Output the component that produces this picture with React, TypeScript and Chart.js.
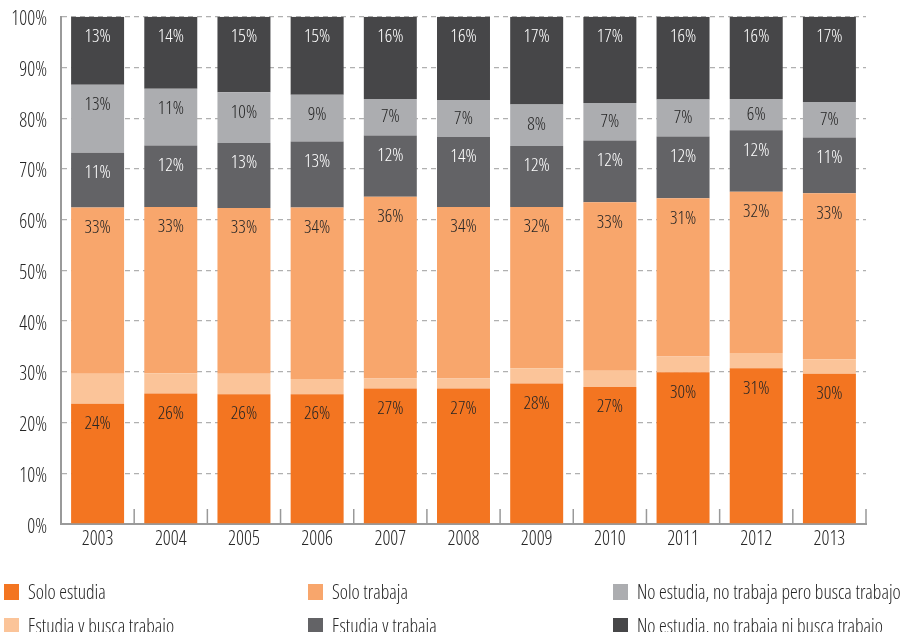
import React, { useEffect, useRef } from "react";
import { Chart, registerables } from "chart.js";
Chart.register(...registerables);

const years = ["2003", "2004", "2005", "2006", "2007", "2008", "2009", "2010", "2011", "2012", "2013"];
const soloEstudia = [23.7, 25.7, 25.6, 25.6, 26.7, 26.7, 27.7, 27.0, 29.9, 30.7, 29.6];
const estudiaBusca = [5.9, 4.0, 4.0, 3.0, 2.0, 2.0, 3.0, 3.2, 3.1, 3.0, 2.9];
const soloTrabaja = [32.8, 32.8, 32.7, 33.8, 35.8, 33.8, 31.8, 33.2, 31.2, 31.8, 32.7];
const estudiaTrabaja = [10.8, 12.1, 12.8, 13.0, 12.1, 13.8, 12.0, 12.2, 12.2, 12.1, 11.0];
const noEstudiaBusca = [13.4, 11.2, 10.0, 9.2, 7.2, 7.3, 8.2, 7.4, 7.3, 6.2, 7.0];
const noEstudiaNiBusca = [13.4, 14.2, 14.9, 15.4, 16.2, 16.4, 17.3, 17.0, 16.3, 16.2, 16.8];

const FAMILY = "'Open Sans', 'DejaVu Sans Condensed', sans-serif";
const STRETCH_WEIGHT = "condensed 300";

const series = [
  { label: "Solo estudia", data: soloEstudia, color: "#F37521", text: "#262626", showLabels: true },
  { label: "Estudia y busca trabajo", data: estudiaBusca, color: "#FBC499", text: "#262626", showLabels: false },
  { label: "Solo trabaja", data: soloTrabaja, color: "#F8A66C", text: "#262626", showLabels: true },
  { label: "Estudia y trabaja", data: estudiaTrabaja, color: "#636366", text: "#ffffff", showLabels: true },
  { label: "No estudia, no trabaja pero busca trabajo", data: noEstudiaBusca, color: "#ACADB0", text: "#262626", showLabels: true },
  { label: "No estudia, no trabaja ni busca trabajo", data: noEstudiaNiBusca, color: "#464648", text: "#ffffff", showLabels: true },
];

// legend grid order (row-major, 3 columns)
const legendOrder = [0, 2, 4, 1, 3, 5];
const legendColX = [4, 308, 613];
const legendRowY = [584, 618];

const CANVAS_SHIFT = 9;

const labelPlugin = {
  id: "segLabels",
  afterDatasetsDraw(chart: any) {
    const ctx = chart.ctx;
    ctx.save();
    ctx.font = `${STRETCH_WEIGHT} 18.5px ${FAMILY}`;
    ctx.textAlign = "center";
    ctx.textBaseline = "middle";
    chart.data.datasets.forEach((ds: any, di: number) => {
      if (!ds.showLabels) return;
      const meta = chart.getDatasetMeta(di);
      meta.data.forEach((el: any, i: number) => {
        const top = Math.min(el.y, el.base);
        const h = Math.abs(el.base - el.y);
        const y = top + Math.min(20, h / 2);
        ctx.fillStyle = ds.labelColor;
        ctx.fillText(Math.round(ds.data[i]) + "%", el.x, y);
      });
    });
    ctx.restore();
  },
};

const tickPlugin = {
  id: "innerTicks",
  afterDraw(chart: any) {
    const x = chart.scales.x;
    const area = chart.chartArea;
    const ctx = chart.ctx;
    const n = chart.data.labels.length;
    ctx.save();
    ctx.strokeStyle = "#999999";
    ctx.lineWidth = 1.5;
    for (let i = 0; i <= n; i++) {
      let px: number;
      if (i === 0) px = area.left;
      else if (i === n) px = area.right;
      else px = (x.getPixelForValue(i - 1) + x.getPixelForValue(i)) / 2;
      ctx.beginPath();
      ctx.moveTo(px, area.bottom);
      ctx.lineTo(px, area.bottom - 15);
      ctx.stroke();
    }
    ctx.restore();
  },
};

export default function App() {
  const ref = useRef<HTMLCanvasElement>(null);
  useEffect(() => {
    if (!ref.current) return;
    const chart = new Chart(ref.current, {
      type: "bar",
      data: {
        labels: years,
        datasets: series.map((s) => ({
          label: s.label,
          data: s.data,
          backgroundColor: s.color,
          borderWidth: 0,
          categoryPercentage: 1,
          barPercentage: 0.724,
          showLabels: s.showLabels,
          labelColor: s.text,
        })) as any,
      },
      options: {
        responsive: false,
        animation: false,
        layout: { padding: { top: 8, right: 36, bottom: 78, left: 0 } },
        plugins: { legend: { display: false }, tooltip: { enabled: false } },
        scales: {
          x: {
            stacked: true,
            grid: { display: false, drawTicks: false },
            border: { display: true, color: "#9a9a9a", width: 2 },
            ticks: { color: "#262626", font: { family: FAMILY, size: 19.5, weight: STRETCH_WEIGHT as any }, padding: 4 },
            afterFit: (s: any) => { s.height = 30; },
          },
          y: {
            stacked: true,
            min: 0,
            max: 100,
            grid: { color: "#b0b0b0", lineWidth: 1.3, drawTicks: false },
            border: { display: true, color: "#9a9a9a", width: 2, dash: [5, 4] },
            ticks: {
              stepSize: 10,
              color: "#262626",
              font: { family: FAMILY, size: 19.5, weight: STRETCH_WEIGHT as any },
              padding: 14,
              labelOffset: 3,
              callback: (v: any) => v + "%",
            },
            afterFit: (s: any) => { s.width = 61; },
          },
        },
      },
      plugins: [labelPlugin, tickPlugin],
    });
    return () => chart.destroy();
  }, []);

  return (
    <div style={{ position: "absolute", left: 0, top: 0, width: 902, height: 632, overflow: "hidden", background: "#fff" }}>
      <canvas
        ref={ref}
        width={902}
        height={632 + CANVAS_SHIFT}
        style={{ position: "absolute", left: 0, top: -CANVAS_SHIFT }}
      />
      {legendOrder.map((si, k) => {
        const s = series[si];
        const col = k % 3;
        const row = Math.floor(k / 3);
        return (
          <div
            key={si}
            style={{
              position: "absolute",
              left: legendColX[col],
              top: legendRowY[row],
              display: "flex",
              alignItems: "flex-start",
              whiteSpace: "nowrap",
            }}
          >
            <span style={{ display: "inline-block", width: 15, height: 16, background: s.color, marginRight: 9 }} />
            <span style={{ fontFamily: FAMILY, fontStretch: "condensed", fontWeight: 300, fontSize: 19.5, lineHeight: "16px", color: "#262626" }}>{s.label}</span>
          </div>
        );
      })}
    </div>
  );
}
